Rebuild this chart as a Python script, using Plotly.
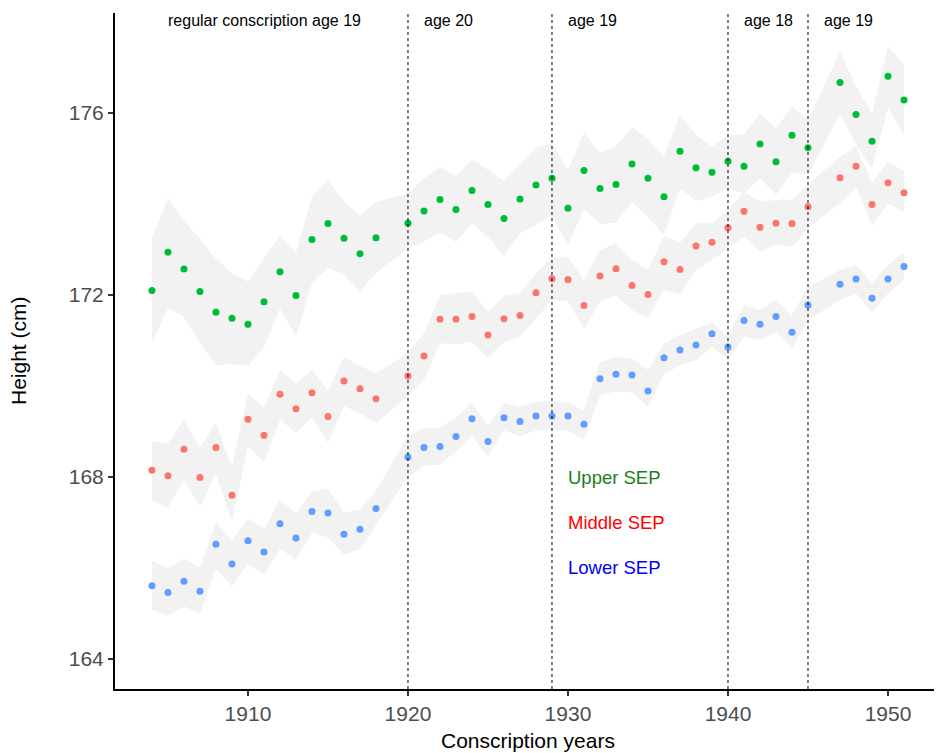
import plotly.graph_objects as go

# Conscription years (no data for 1919 and 1946)
years = list(range(1904, 1919)) + list(range(1920, 1946)) + list(range(1947, 1952))

# Mean height (cm) by socio-economic position, with 95% interval bounds
upper_sep = [172.10, 172.94, 172.57, 172.08, 171.62, 171.49, 171.36, 171.85, 172.51, 171.99,
             173.22, 173.57, 173.25, 172.91, 173.26,
             173.58, 173.85, 174.10, 173.88, 174.30, 173.99, 173.68, 174.11, 174.42, 174.57,
             173.91, 174.74, 174.34, 174.43, 174.88, 174.57, 174.16, 175.16, 174.80, 174.70,
             174.94, 174.83, 175.32, 174.93, 175.51, 175.24,
             176.67, 175.97, 175.38, 176.81, 176.29]
upper_sep_lo = [170.94, 171.71, 171.52, 170.94, 170.46, 170.48, 170.44, 170.85, 171.71, 171.09,
                172.27, 172.60, 172.44, 172.09, 172.48,
                173.03, 173.17, 173.37, 173.17, 173.58, 173.28, 172.86, 173.36, 173.54, 173.76,
                173.08, 173.89, 173.56, 173.59, 174.04, 173.71, 173.32, 174.34, 174.07, 174.16,
                174.34, 174.23, 174.56, 174.21, 174.69, 174.64,
                175.98, 175.30, 174.78, 176.12, 175.52]
upper_sep_hi = [173.27, 174.14, 173.63, 173.25, 172.79, 172.48, 172.29, 172.81, 173.30, 172.93,
                174.16, 174.51, 174.05, 173.74, 174.05,
                174.23, 174.56, 174.82, 174.60, 174.99, 174.75, 174.51, 174.89, 175.25, 175.33,
                174.75, 175.57, 175.11, 175.27, 175.70, 175.43, 175.04, 175.96, 175.52, 175.26,
                175.52, 175.53, 175.99, 175.66, 176.15, 175.85,
                177.35, 176.58, 175.99, 177.47, 177.05]

middle_sep = [168.15, 168.03, 168.61, 167.99, 168.65, 167.60, 169.27, 168.92, 169.82, 169.50,
              169.85, 169.33, 170.11, 169.94, 169.72,
              170.22, 170.66, 171.47, 171.47, 171.53, 171.12, 171.48, 171.55, 172.05, 172.36,
              172.34, 171.77, 172.42, 172.58, 172.21, 172.01, 172.73, 172.56, 173.08, 173.16,
              173.48, 173.84, 173.49, 173.58, 173.57, 173.94,
              174.58, 174.83, 173.99, 174.47, 174.25]
middle_sep_lo = [167.49, 167.33, 167.93, 167.35, 168.07, 167.02, 168.68, 168.34, 169.27, 168.96,
                 169.31, 168.75, 169.56, 169.40, 169.19,
                 169.77, 170.13, 170.94, 170.92, 170.97, 170.63, 170.97, 171.07, 171.49, 171.89,
                 171.87, 171.25, 171.85, 171.99, 171.67, 171.49, 172.11, 172.02, 172.55, 172.77,
                 173.03, 173.28, 172.96, 173.10, 173.05, 173.47,
                 174.02, 174.37, 173.52, 174.02, 173.83]
middle_sep_hi = [168.79, 168.74, 169.25, 168.65, 169.19, 168.23, 169.84, 169.51, 170.35, 170.07,
                 170.35, 169.90, 170.63, 170.44, 170.28,
                 170.72, 171.16, 172.00, 172.04, 172.09, 171.63, 171.98, 172.05, 172.48, 172.83,
                 172.83, 172.33, 172.99, 173.14, 172.77, 172.55, 173.30, 173.15, 173.58, 173.58,
                 173.87, 174.27, 174.05, 174.09, 174.10, 174.42,
                 175.04, 175.27, 174.47, 174.93, 174.73]

lower_sep = [165.61, 165.46, 165.71, 165.49, 166.52, 166.09, 166.60, 166.35, 166.97, 166.66,
             167.24, 167.21, 166.74, 166.85, 167.31,
             168.44, 168.65, 168.67, 168.89, 169.28, 168.78, 169.30, 169.22, 169.34, 169.34,
             169.34, 169.16, 170.16, 170.26, 170.24, 169.89, 170.62, 170.79, 170.90, 171.15,
             170.86, 171.44, 171.36, 171.53, 171.18, 171.78,
             172.24, 172.35, 171.93, 172.35, 172.63]
lower_sep_lo = [165.08, 164.95, 165.16, 164.99, 165.99, 165.59, 166.09, 165.85, 166.43, 166.18,
                166.78, 166.67, 166.29, 166.41, 166.95,
                168.00, 168.25, 168.27, 168.56, 168.89, 168.45, 169.03, 168.89, 169.03, 169.03,
                169.03, 168.81, 169.80, 169.88, 169.86, 169.55, 170.26, 170.45, 170.57, 170.86,
                170.59, 171.09, 171.01, 171.19, 170.83, 171.45,
                171.89, 172.04, 171.61, 172.04, 172.33]
lower_sep_hi = [166.16, 165.99, 166.21, 166.01, 167.00, 166.62, 167.09, 166.85, 167.51, 167.19,
                167.68, 167.75, 167.22, 167.29, 167.70,
                168.90, 169.07, 169.09, 169.29, 169.63, 169.11, 169.63, 169.55, 169.66, 169.67,
                169.63, 169.47, 170.53, 170.63, 170.61, 170.35, 170.94, 171.12, 171.25, 171.39,
                171.09, 171.78, 171.67, 171.89, 171.56, 172.18,
                172.55, 172.66, 172.26, 172.66, 172.93]

# Changes in regular conscription age
regime_breaks = [1920, 1929, 1940, 1945]
regime_labels = [(1905, "regular conscription age 19"), (1921, "age 20"),
                 (1930, "age 19"), (1941, "age 18"), (1946, "age 19")]

x_ticks = [1910, 1920, 1930, 1940, 1950]
y_ticks = [164, 168, 172, 176]

series = [
    ("Upper SEP", upper_sep, upper_sep_lo, upper_sep_hi, "#00BA38", "#1E7B1E", 168.0),
    ("Middle SEP", middle_sep, middle_sep_lo, middle_sep_hi, "#F8766D", "#FF0000", 167.0),
    ("Lower SEP", lower_sep, lower_sep_lo, lower_sep_hi, "#619CFF", "#0000FF", 166.0),
]

FONT = "Liberation Sans, Arial, Helvetica, sans-serif"
BAND = "#F2F2F2"

fig = go.Figure()

# Interval ribbons
for name, mean, lo, hi, col, txtcol, ly in series:
    fig.add_trace(go.Scatter(x=years, y=lo, mode="lines", line=dict(width=0, color=BAND),
                             hoverinfo="skip", showlegend=False))
    fig.add_trace(go.Scatter(x=years, y=hi, mode="lines", line=dict(width=0, color=BAND),
                             fill="tonexty", fillcolor=BAND, hoverinfo="skip", showlegend=False))

# Point estimates
for name, mean, lo, hi, col, txtcol, ly in series:
    fig.add_trace(go.Scatter(x=years, y=mean, mode="markers", name=name,
                             marker=dict(size=7, color=col, line=dict(width=0)),
                             showlegend=False))

# Group labels inside the panel
for name, mean, lo, hi, col, txtcol, ly in series:
    fig.add_annotation(x=1930, y=ly, text=name, showarrow=False, xanchor="left",
                       yanchor="middle", xshift=-2,
                       font=dict(family=FONT, size=18.5, color=txtcol))

# Conscription-age regimes
for yr in regime_breaks:
    fig.add_shape(type="line", x0=yr, x1=yr, y0=0, y1=1, xref="x", yref="paper",
                  line=dict(color="black", width=1, dash="dot"), layer="above")
for yr, txt in regime_labels:
    fig.add_annotation(x=yr, y=1, yref="paper", yshift=-7, text=txt, showarrow=False,
                       xanchor="left", yanchor="middle", xshift=-2,
                       font=dict(family=FONT, size=16, color="black"))

# Axis titles
fig.add_annotation(x=0.5, y=0, xref="paper", yref="paper", yshift=-51, xshift=3,
                   text="Conscription years", showarrow=False, xanchor="center",
                   yanchor="middle", font=dict(family=FONT, size=21, color="black"))
fig.add_annotation(x=0, y=0.5, xref="paper", yref="paper", xshift=-97, text="Height (cm)",
                   textangle=-90, showarrow=False, xanchor="center", yanchor="middle",
                   font=dict(family=FONT, size=21, color="black"))

axis_common = dict(showgrid=False, zeroline=False, showline=True, linecolor="black",
                   linewidth=2, ticks="outside", ticklen=5, tickwidth=2, tickcolor="#333333",
                   tickfont=dict(family=FONT, size=21, color="#4D4D4D"))

fig.update_xaxes(range=[1901.69, 1952.875], tickvals=x_ticks, **axis_common)
fig.update_yaxes(range=[163.34, 178.2], tickvals=y_ticks, **axis_common)

fig.update_layout(width=936, height=753, plot_bgcolor="white", paper_bgcolor="white",
                  margin=dict(l=115, r=2, t=13, b=64), showlegend=False,
                  font=dict(family=FONT))

fig.write_html("out.html")
